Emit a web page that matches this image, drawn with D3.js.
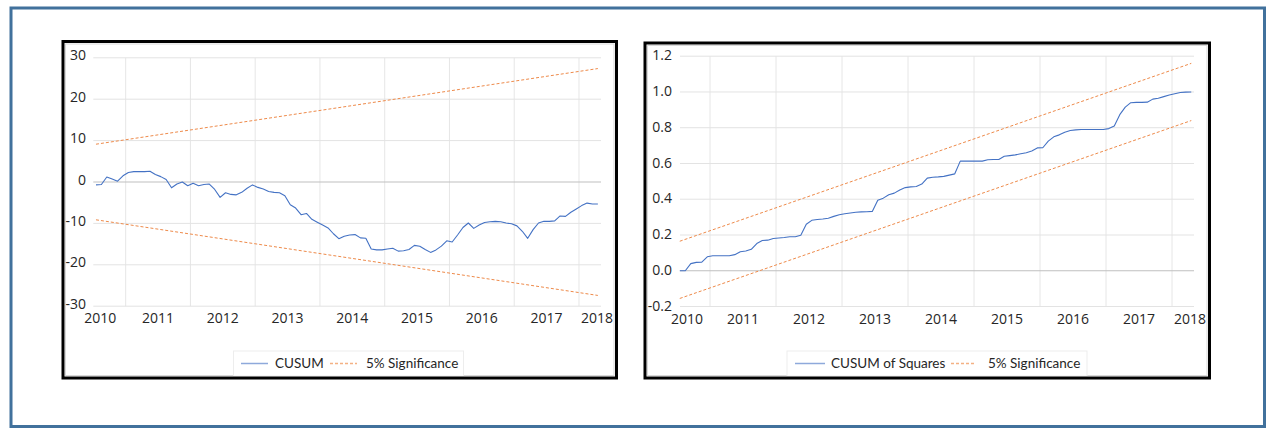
<!DOCTYPE html>
<html><head><meta charset="utf-8">
<script src="https://cdn.jsdelivr.net/npm/d3@7"></script>
<style>body{margin:0;background:#fff}svg{display:block}</style>
</head><body>
<svg id="c" width="1285" height="438"></svg>
<script>
// ---------- DATA ----------
const startYear = 2010, startMonth = 7;   // first observation (monthly)
const years = [2010, 2011, 2012, 2013, 2014, 2015, 2016, 2017, 2018];
const cusumTicks = [30, 20, 10, 0, -10, -20, -30];
const sqTicks = [1.2, 1.0, 0.8, 0.6, 0.4, 0.2, 0.0, -0.2];

const cusum = [
 -0.7,-0.6,1.2,0.7,0.2,1.5,2.3,2.5,2.5,2.5,2.6,1.8,1.3,0.6,-1.4,-0.5,0,-0.9,-0.3,-0.9,
 -0.6,-0.5,-1.8,-3.7,-2.6,-3.0,-3.1,-2.5,-1.5,-0.7,-1.3,-1.7,-2.3,-2.5,-2.6,-3.3,-5.5,-6.3,-7.9,-7.6,
 -9.0,-9.7,-10.4,-11.1,-12.5,-13.7,-13.1,-12.8,-12.7,-13.5,-13.6,-16.2,-16.4,-16.4,-16.2,-16.0,-16.7,-16.6,-16.3,-15.3,
 -15.5,-16.3,-17.0,-16.4,-15.5,-14.2,-14.5,-12.8,-11.0,-9.9,-11.2,-10.4,-9.8,-9.6,-9.5,-9.6,-9.9,-10.1,-10.6,-11.9,
 -13.6,-11.5,-9.9,-9.5,-9.5,-9.4,-8.2,-8.3,-7.3,-6.5,-5.7,-5.1,-5.3,-5.3
];
const cusumSq = [
 0.0,0.0,0.04,0.047,0.048,0.078,0.084,0.084,0.084,0.084,0.09,0.106,0.11,0.12,0.152,0.169,0.171,0.18,0.183,0.186,
 0.19,0.19,0.199,0.26,0.282,0.287,0.289,0.294,0.304,0.313,0.319,0.323,0.327,0.329,0.33,0.332,0.394,0.406,0.425,0.434,
 0.452,0.465,0.469,0.471,0.485,0.518,0.523,0.525,0.528,0.535,0.542,0.613,0.613,0.613,0.613,0.613,0.621,0.622,0.622,0.64,
 0.644,0.648,0.654,0.66,0.67,0.687,0.688,0.725,0.749,0.76,0.775,0.784,0.788,0.79,0.79,0.79,0.79,0.79,0.795,0.81,
 0.873,0.915,0.94,0.942,0.942,0.943,0.96,0.965,0.974,0.983,0.99,0.997,0.999,1.0
];
// 5% significance bounds (first and last observation; straight lines)
const cusumUpper = [9.13, 27.4];
const cusumLower = [-9.13, -27.4];
const sqUpper = [0.165, 1.16];
const sqLower = [-0.155, 0.84];

// ---------- HELPERS ----------
const dateOf = i => startYear + (startMonth - 1 + i + 0.5) / 12;
const svg = d3.select("#c");
const BLUE = "#4472C4", ORANGE = "#EE8A4A";
const TICKFONT = "'Open Sans', sans-serif";

// outer frame
svg.append("rect").attr("x", 11).attr("y", 8).attr("width", 1253.5).attr("height", 418.5)
  .attr("fill", "none").attr("stroke", "#41719C").attr("stroke-width", 3);

function chart(cfg) {
  const g = svg.append("g");
  const x = d3.scaleLinear().domain(cfg.xDomain).range([cfg.left, cfg.right]);
  const y = d3.scaleLinear().domain(cfg.yDomain).range([cfg.bottom, cfg.top]);

  // chart background
  g.append("rect").attr("x", cfg.box[0]).attr("y", cfg.box[1])
    .attr("width", cfg.box[2] - cfg.box[0]).attr("height", cfg.box[3] - cfg.box[1])
    .attr("fill", "#fff");
  g.append("rect").attr("x", cfg.box[0] + 2.5).attr("y", cfg.box[1] + 2.5)
    .attr("width", cfg.box[2] - cfg.box[0] - 5).attr("height", cfg.box[3] - cfg.box[1] - 5)
    .attr("fill", "none").attr("stroke", "#D9D9D9").attr("stroke-width", 1);

  // vertical gridlines at year boundaries
  g.selectAll(".vg").data(years.filter(v => x(v) > cfg.left + 1 && x(v) < cfg.right))
    .join("line").attr("x1", d => x(d)).attr("x2", d => x(d))
    .attr("y1", cfg.top).attr("y2", cfg.bottom)
    .attr("stroke", "#E6E6E6").attr("stroke-width", 1);
  // horizontal gridlines
  g.selectAll(".hg").data(cfg.ticks).join("line")
    .attr("x1", cfg.left).attr("x2", cfg.right)
    .attr("y1", d => y(d)).attr("y2", d => y(d))
    .attr("stroke", d => d === 0 ? "#BFBFBF" : "#E3E3E3").attr("stroke-width", d => d === 0 ? 1.2 : 1);

  // y tick labels
  g.selectAll(".yl").data(cfg.ticks).join("text")
    .attr("x", cfg.yLabelX).attr("y", d => y(d) + cfg.yLabelDy)
    .attr("text-anchor", "end").attr("dy", "0.36em")
    .attr("font-family", TICKFONT).attr("font-size", 14).attr("fill", "#262626")
    .text(cfg.fmt);

  // x tick labels (centred in each year, kept inside the chart)
  g.selectAll(".xl").data(years).join("text")
    .attr("y", cfg.xLabelY).attr("text-anchor", "middle")
    .attr("font-family", TICKFONT).attr("font-size", 14).attr("fill", "#262626")
    .text(d => d)
    .attr("x", function (d) {
      const w = this.getComputedTextLength();
      let c = x(d + 0.5);
      c = Math.max(c, cfg.left + w / 2 - 9);
      c = Math.min(c, cfg.right - w / 2 + 12);
      return c;
    });

  // significance bounds
  const n = cfg.series.length;
  const ends = [dateOf(0), dateOf(n - 1)];
  [cfg.upper, cfg.lower].forEach(b => {
    g.append("path")
      .attr("d", d3.line().x((d, i) => x(ends[i])).y(d => y(d))(b))
      .attr("fill", "none").attr("stroke", ORANGE).attr("stroke-width", 1)
      .attr("stroke-dasharray", "3,2");
  });
  // main series
  g.append("path")
    .attr("d", d3.line().x((d, i) => x(dateOf(i))).y(d => y(d))(cfg.series))
    .attr("fill", "none").attr("stroke", BLUE).attr("stroke-width", 1.1)
    .attr("stroke-linejoin", "round");

  // legend
  const L = cfg.legend;
  g.append("rect").attr("x", L.x).attr("y", L.y).attr("width", L.w).attr("height", L.h)
    .attr("fill", "#fff").attr("stroke", "#EDEDED");
  const ly = L.y + L.h / 2;
  g.append("line").attr("x1", L.items[0].x1).attr("x2", L.items[0].x2).attr("y1", ly).attr("y2", ly)
    .attr("stroke", "#8EA9DB").attr("stroke-width", 1.5);
  g.append("line").attr("x1", L.items[1].x1).attr("x2", L.items[1].x2).attr("y1", ly).attr("y2", ly)
    .attr("stroke", "#F4B183").attr("stroke-width", 1.5).attr("stroke-dasharray", "3,2");
  L.items.forEach(it => {
    g.append("text").attr("x", it.tx).attr("y", ly).attr("dy", "0.35em")
      .attr("font-family", "Lato, sans-serif").attr("font-size", 13.5).attr("fill", "#262626")
      .text(it.label);
  });

  // black frame on top
  g.append("rect").attr("x", cfg.box[0]).attr("y", cfg.box[1])
    .attr("width", cfg.box[2] - cfg.box[0]).attr("height", cfg.box[3] - cfg.box[1])
    .attr("fill", "none").attr("stroke", "#000").attr("stroke-width", 3);
}

chart({
  box: [63, 41.5, 616.5, 378],
  left: 93.3, right: 601, top: 57.8, bottom: 306.2,
  xDomain: [2010.5, 2018.34], yDomain: [-30, 30],
  ticks: cusumTicks, fmt: d => d3.format("d")(d).replace("−", "-"),
  yLabelX: 86, yLabelDy: -2.5, xLabelY: 322.5,
  series: cusum, upper: cusumUpper, lower: cusumLower,
  legend: { x: 233.5, y: 351, w: 230, h: 25,
    items: [ { x1: 241, x2: 268, tx: 275, label: "CUSUM" },
             { x1: 330, x2: 357, tx: 366, label: "5% Significance" } ] }
});

chart({
  box: [645, 43, 1209.5, 378],
  left: 680, right: 1194, top: 56.2, bottom: 306.5,
  xDomain: [2010.545, 2018.333], yDomain: [-0.2, 1.2],
  ticks: sqTicks, fmt: d => d3.format(".1f")(d).replace("−", "-"),
  yLabelX: 672, yLabelDy: -0.8, xLabelY: 324,
  series: cusumSq, upper: sqUpper, lower: sqLower,
  legend: { x: 787, y: 351, w: 300, h: 25,
    items: [ { x1: 795, x2: 825, tx: 831, label: "CUSUM of Squares" },
             { x1: 951, x2: 975, tx: 988, label: "5% Significance" } ] }
});
</script>
</body></html>
